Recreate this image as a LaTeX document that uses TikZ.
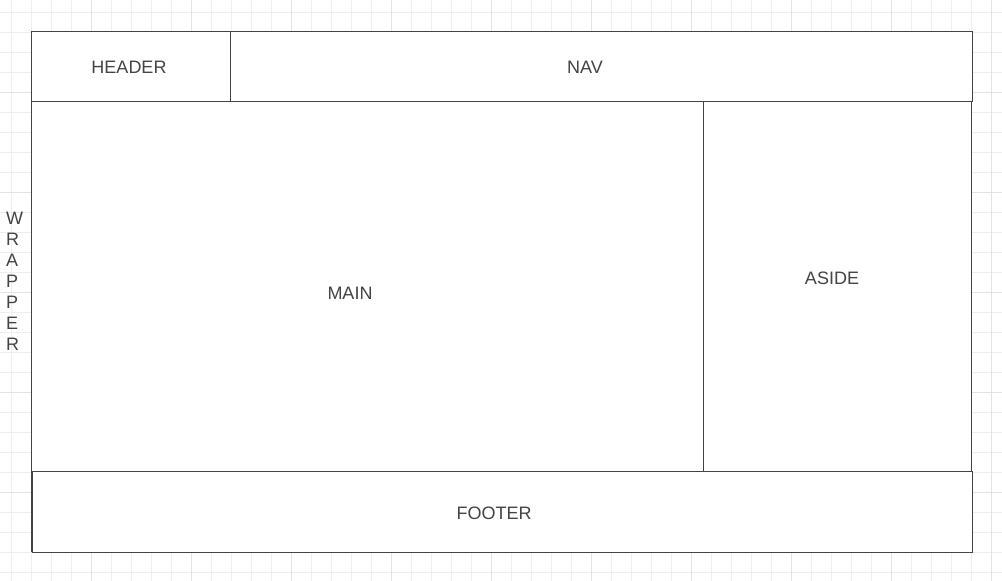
\documentclass[tikz,border=0pt]{standalone}
\usepackage{fontspec}
\setmainfont{Liberation Sans}
\usepackage{xcolor}
\definecolor{gridminor}{HTML}{EEEEEE}
\definecolor{gridmajor}{HTML}{E3E3E3}
\definecolor{boxline}{HTML}{444444}
\definecolor{labeltext}{HTML}{444444}

\begin{document}
\begin{tikzpicture}[
		x=1pt, y=-1pt,
		font=\fontsize{18}{21}\selectfont,
		region/.style={draw=boxline, line width=1pt, fill=white},
		label/.style={text=labeltext, inner sep=0pt}
	]
	
	\useasboundingbox (0,0) rectangle (1002,581);
	\fill[white] (0,0) rectangle (1002,581);
	
	% background grid
	\foreach \x in {11,31,...,991}
		\draw[gridminor, line width=1pt] (\x.5,0) -- (\x.5,581);
	\foreach \y in {12,32,...,572}
		\draw[gridminor, line width=1pt] (0,\y.5) -- (1002,\y.5);
	\foreach \x in {91,191,...,991}
		\draw[gridmajor, line width=1pt] (\x.5,0) -- (\x.5,581);
	\foreach \y in {92,192,...,492}
		\draw[gridmajor, line width=1pt] (0,\y.5) -- (1002,\y.5);
	
	% layout regions
	\draw[region] (31.5,31.5) rectangle (971.5,551.5);
	\draw[region] (31.5,31.5) rectangle (230.5,101.5);
	\draw[region] (230.5,31.5) rectangle (972.5,101.5);
	\draw[region] (31.5,101.5) rectangle (703.5,471.5);
	\draw[region] (703.5,101.5) rectangle (971.5,471.5);
	\draw[region] (32.5,471.5) rectangle (972.5,552.5);
	
	% labels
	\node[label] (header) at (129,67) {HEADER};
	\node[label] (nav) at (585,67) {NAV};
	\node[label] (main) at (350,293) {MAIN};
	\node[label] (aside) at (832,278) {ASIDE};
	\node[label] (footer) at (494,513) {FOOTER};
	\node[label, align=left, anchor=west] (wrapper) at (6,281)
		{W\\R\\A\\P\\P\\E\\R};
	
\end{tikzpicture}
\end{document}
